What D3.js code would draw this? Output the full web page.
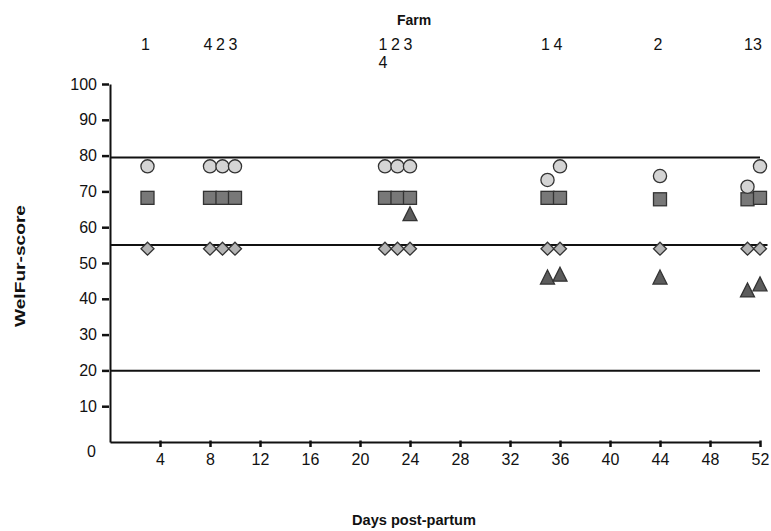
<!DOCTYPE html>
<html>
<head>
<meta charset="utf-8">
<script src="https://cdn.jsdelivr.net/npm/d3@7"></script>
<style>
  body { margin: 0; background: #fff; }
  text { font-family: "Liberation Sans", Arial, sans-serif; fill: #111; }
</style>
</head>
<body>
<svg id="chart" width="771" height="531"></svg>
<script>
// days post-partum of each visit
const days = [3, 8, 9, 10, 22, 23, 24, 35, 36, 44, 51, 52]
// WelFur scores per marker type (null = no marker)
const circleScores = [77, 77, 77, 77, 77, 77, 77, 73.2, 77, 74.3, 71.3, 77]
const squareScores = [68.2, 68.2, 68.2, 68.2, 68.2, 68.2, 68.2, 68.2, 68.2, 67.8, 67.8, 68.2]
const diamondScores = [54, 54, 54, 54, 54, 54, 54, 54, 54, 54, 54, 54]
const triangleScores = [null, null, null, null, null, null, 63.5, 45.8, 46.6, 45.8, 42.2, 43.9]

// farm labels above the plot
const farmLabels = ['1', '4', '2', '3', '1', '2', '3', '4', '1', '4', '2', '13']
const farmDays = [3, 8, 9, 10, 22, 23, 24, 22, 35, 36, 44, 51.6]
const farmRows = [0, 0, 0, 0, 0, 0, 0, 1, 0, 0, 0, 0]

// horizontal reference lines
const refValues = [79.5, 55, 19.9]
const refEnds = [52, 52.6, 52]

const xTicks = [4, 8, 12, 16, 20, 24, 28, 32, 36, 40, 44, 48, 52]
const yTicks = [0, 10, 20, 30, 40, 50, 60, 70, 80, 90, 100]

const font = '"Liberation Sans", Arial, sans-serif'
const svg = d3.select('#chart')
const x = d3.scaleLinear().domain([0, 52]).range([110, 760])
const y = d3.scaleLinear().domain([0, 100]).range([442, 84])

// 坐标轴
const xAxis = svg.append('g')
    .attr('transform', `translate(0, ${y(0)})`)
    .call(d3.axisBottom(x).tickValues(xTicks).tickSize(5).tickSizeOuter(0).tickPadding(7))
xAxis.select('.domain').attr('stroke', '#111').attr('stroke-width', 2)
xAxis.selectAll('.tick line').attr('stroke', '#111').attr('stroke-width', 2.5).attr('y1', -1.5)
xAxis.selectAll('.tick text').attr('font-size', '16px').attr('font-family', font).attr('fill', '#111')

const yAxis = svg.append('g')
    .attr('transform', `translate(${x(0)}, 0)`)
    .call(d3.axisLeft(y).tickValues(yTicks).tickSize(8).tickSizeOuter(0).tickPadding(5))
yAxis.select('.domain').attr('stroke', '#111').attr('stroke-width', 2)
yAxis.selectAll('.tick line').attr('stroke', '#111').attr('stroke-width', 2.5).attr('x2', -8).attr('x1', -1)
yAxis.selectAll('.tick text').attr('font-size', '16px').attr('font-family', font).attr('fill', '#111')
// zero label sits lower, like in the original
yAxis.selectAll('.tick text').filter((d) => d === 0).attr('dy', '0.9em').attr('x', -14)
yAxis.selectAll('.tick').filter((d) => d === 0).select('line').remove()

// 參考線
svg.append('g').selectAll('line')
    .data(refValues)
    .join('line')
    .attr('x1', x(0))
    .attr('x2', (d, i) => x(refEnds[i]))
    .attr('y1', (d) => y(d))
    .attr('y2', (d) => y(d))
    .attr('stroke', '#111')
    .attr('stroke-width', 2)

const stroke = '#333'
const pts = (vals) => days.map((d, i) => ({ day: d, v: vals[i] })).filter((p) => p.v != null)

// diamonds
svg.append('g').selectAll('path')
    .data(pts(diamondScores))
    .join('path')
    .attr('d', 'M0,-6.5L6.5,0L0,6.5L-6.5,0Z')
    .attr('transform', (d) => `translate(${x(d.day)}, ${y(d.v)})`)
    .attr('fill', '#b3b3b3')
    .attr('stroke', stroke)
    .attr('stroke-width', 1.3)

// squares
svg.append('g').selectAll('rect')
    .data(pts(squareScores))
    .join('rect')
    .attr('x', (d) => x(d.day) - 6.5)
    .attr('y', (d) => y(d.v) - 6.5)
    .attr('width', 13)
    .attr('height', 13)
    .attr('fill', '#787878')
    .attr('stroke', stroke)
    .attr('stroke-width', 1.3)

// triangles
svg.append('g').selectAll('path')
    .data(pts(triangleScores))
    .join('path')
    .attr('d', 'M0,-8L7,6L-7,6Z')
    .attr('transform', (d) => `translate(${x(d.day)}, ${y(d.v)})`)
    .attr('fill', '#5c5c5c')
    .attr('stroke', stroke)
    .attr('stroke-width', 1.3)

// circles
svg.append('g').selectAll('circle')
    .data(pts(circleScores))
    .join('circle')
    .attr('cx', (d) => x(d.day))
    .attr('cy', (d) => y(d.v))
    .attr('r', 6.6)
    .attr('fill', '#d4d4d4')
    .attr('stroke', stroke)
    .attr('stroke-width', 1.3)

// farm numbers
svg.append('g').selectAll('text')
    .data(farmLabels)
    .join('text')
    .attr('x', (d, i) => x(farmDays[i]) - 2)
    .attr('y', (d, i) => 50 + farmRows[i] * 18)
    .attr('text-anchor', 'middle')
    .attr('font-size', '16px')
    .text((d) => d)

// 標題
svg.append('text')
    .attr('x', 414).attr('y', 25)
    .attr('text-anchor', 'middle')
    .attr('font-size', '14px').attr('font-weight', 'bold')
    .text('Farm')

svg.append('text')
    .attr('x', 414).attr('y', 525)
    .attr('text-anchor', 'middle')
    .attr('font-size', '14.5px').attr('font-weight', 'bold')
    .attr('textLength', 124).attr('lengthAdjust', 'spacingAndGlyphs')
    .text('Days post-partum')

svg.append('text')
    .attr('transform', 'translate(25, 266) rotate(-90)')
    .attr('text-anchor', 'middle')
    .attr('font-size', '14px').attr('font-weight', 'bold')
    .attr('textLength', 122).attr('lengthAdjust', 'spacingAndGlyphs')
    .text('WelFur-score')
</script>
</body>
</html>
